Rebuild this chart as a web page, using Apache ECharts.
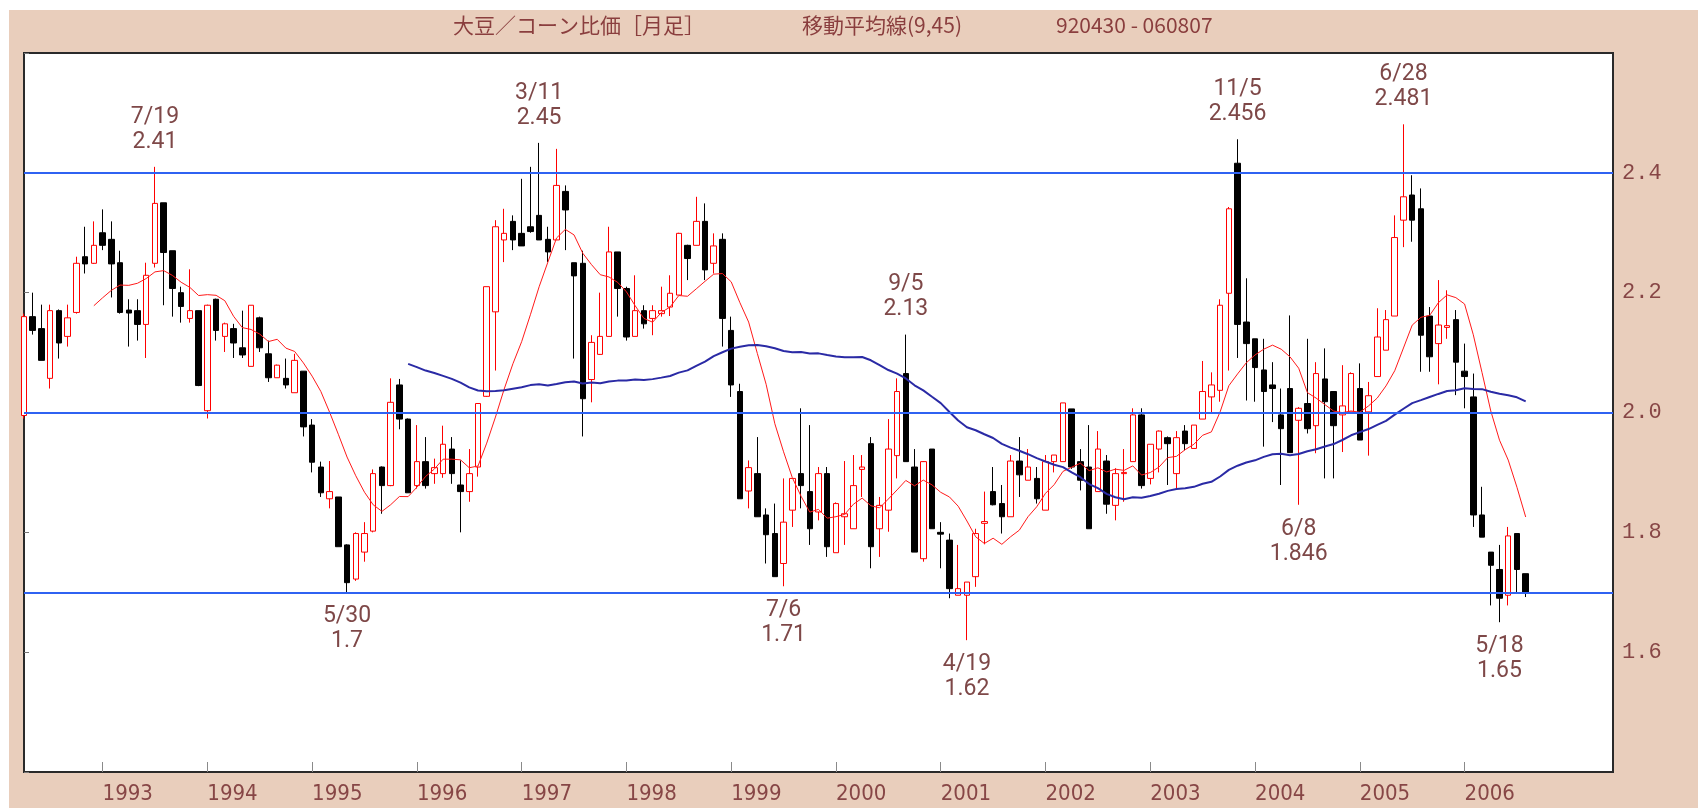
<!DOCTYPE html>
<html>
<head>
<meta charset="utf-8">
<script src="https://cdn.jsdelivr.net/npm/echarts@6/dist/echarts.min.js"></script>
<style>
  html, body { margin: 0; padding: 0; background: #ffffff; width: 1698px; height: 808px; overflow: hidden; }
  #bg { position: absolute; left: 9px; top: 10px; right: 0; bottom: 0; background: #E9CEBC; }
  #main { position: absolute; left: 0; top: 0; width: 1698px; height: 808px; }
</style>
</head>
<body>
<div id="bg"></div>
<div id="main"></div>
<script>
// ---- categories: monthly slots starting 1992/04 (data through 2006/08, then empty slots to the right edge)
const startYear = 1992;
const startMonth = 4;
const slotCount = 183;
const months = [];
for (let k = 0; k < slotCount; k++) {
  const m = startMonth - 1 + k;
  months.push((startYear + Math.floor(m / 12)) + '/' + String(m % 12 + 1).padStart(2, '0'));
}
// year tick labels shown on the x axis
const yearLabels = ['1993','1994','1995','1996','1997','1998','1999','2000','2001','2002','2003','2004','2005','2006'];

// ---- monthly candles, 1992/04 .. 2006/08
const opens = [
  1.995,2.160,2.140,2.057,2.170,2.127,2.167,2.260,2.249,2.300,2.289,2.250,
  2.171,2.170,2.147,2.249,2.350,2.270,2.200,2.157,2.170,2.003,2.189,2.127,
  2.140,2.108,2.077,2.158,2.098,2.058,2.057,2.033,2.069,1.979,1.909,1.856,
  1.859,1.779,1.722,1.767,1.802,1.909,1.878,2.046,1.989,1.878,1.918,1.898,
  1.898,1.939,1.879,1.868,1.909,2.027,2.168,2.288,2.319,2.299,2.310,2.329,
  2.289,2.288,2.369,2.250,2.249,2.055,2.097,2.127,2.268,2.207,2.127,2.170,
  2.157,2.165,2.176,2.196,2.279,2.279,2.319,2.249,2.289,2.137,2.035,1.869,
  1.898,1.829,1.798,1.748,1.837,1.898,1.868,1.834,1.898,1.766,1.826,1.806,
  1.905,1.948,1.806,1.837,1.928,2.065,1.909,1.756,1.939,1.800,1.787,1.695,
  1.695,1.726,1.815,1.868,1.848,1.826,1.919,1.887,1.890,1.837,1.918,1.918,
  2.006,1.918,1.909,1.868,1.919,1.845,1.898,1.918,1.996,1.890,1.939,1.958,
  1.898,1.969,1.940,1.989,2.026,2.037,2.199,2.416,2.151,2.123,2.071,2.046,
  1.996,2.040,1.987,2.015,1.978,2.056,2.035,1.996,2.001,2.040,2.001,2.060,
  2.104,2.161,2.321,2.363,2.340,2.161,2.115,2.142,2.155,2.069,2.026,1.829,
  1.767,1.738,1.695,1.798,1.731
];
const closes = [
  2.160,2.137,2.087,2.170,2.116,2.158,2.249,2.248,2.279,2.279,2.248,2.167,
  2.166,2.147,2.229,2.349,2.267,2.207,2.177,2.170,2.045,2.179,2.137,2.148,
  2.116,2.096,2.179,2.108,2.058,2.079,2.046,2.087,1.976,1.917,1.866,1.868,
  1.776,1.716,1.798,1.798,1.898,1.878,2.017,1.989,1.866,1.918,1.878,1.908,
  1.947,1.898,1.868,1.898,2.015,2.210,2.310,2.299,2.288,2.278,2.302,2.288,
  2.268,2.379,2.338,2.228,2.023,2.117,2.127,2.268,2.207,2.126,2.170,2.148,
  2.170,2.170,2.199,2.299,2.257,2.319,2.238,2.278,2.157,2.046,1.856,1.908,
  1.826,1.796,1.726,1.817,1.890,1.878,1.806,1.898,1.776,1.848,1.831,1.878,
  1.909,1.776,1.845,1.939,2.035,1.918,1.767,1.918,1.806,1.797,1.706,1.706,
  1.717,1.798,1.818,1.846,1.826,1.919,1.896,1.909,1.856,1.918,1.929,2.016,
  1.909,1.887,1.806,1.939,1.847,1.898,1.900,1.996,1.878,1.947,1.969,1.948,
  1.958,1.948,1.979,2.035,2.046,2.179,2.340,2.147,2.115,2.075,2.035,2.040,
  1.973,1.933,2.007,1.973,2.065,2.018,1.978,2.011,2.065,1.954,2.028,2.126,
  2.155,2.292,2.360,2.321,2.129,2.093,2.146,2.145,2.084,2.060,1.829,1.792,
  1.745,1.690,1.794,1.738,1.698
];
const lows = [
  1.990,2.130,2.087,2.040,2.090,2.110,2.165,2.232,2.248,2.271,2.192,2.165,
  2.110,2.120,2.091,2.242,2.179,2.160,2.150,2.150,2.044,1.990,2.120,2.101,
  2.091,2.091,2.077,2.101,2.051,2.058,2.040,2.033,1.960,1.900,1.859,1.840,
  1.776,1.700,1.719,1.751,1.800,1.831,1.877,1.972,1.866,1.873,1.873,1.881,
  1.891,1.881,1.800,1.851,1.893,2.026,2.070,2.251,2.271,2.278,2.300,2.288,
  2.251,2.288,2.271,2.090,1.960,2.017,2.096,2.127,2.160,2.120,2.127,2.140,
  2.129,2.160,2.161,2.196,2.221,2.279,2.221,2.232,2.110,2.026,1.856,1.840,
  1.826,1.748,1.726,1.710,1.809,1.840,1.779,1.820,1.759,1.766,1.779,1.806,
  1.859,1.740,1.759,1.801,1.890,1.918,1.767,1.751,1.806,1.740,1.690,1.695,
  1.620,1.709,1.780,1.845,1.798,1.826,1.859,1.887,1.848,1.837,1.900,1.918,
  1.906,1.870,1.806,1.868,1.831,1.820,1.851,1.918,1.873,1.880,1.900,1.879,
  1.873,1.937,1.940,1.989,1.998,2.018,2.070,2.091,2.020,2.018,1.943,1.984,
  1.879,1.933,1.846,1.965,1.932,1.890,1.890,1.934,2.001,1.954,1.928,2.060,
  2.104,2.161,2.276,2.285,2.068,2.068,2.047,2.123,2.029,2.007,1.809,1.792,
  1.678,1.650,1.678,1.698,1.692
];
const highs = [
  2.165,2.200,2.180,2.180,2.172,2.180,2.260,2.310,2.319,2.339,2.319,2.270,
  2.189,2.189,2.250,2.410,2.350,2.270,2.210,2.239,2.170,2.180,2.190,2.150,
  2.148,2.170,2.179,2.160,2.120,2.080,2.090,2.098,2.069,1.989,1.918,1.919,
  1.859,1.780,1.800,1.817,1.905,1.910,2.057,2.056,1.990,1.979,1.959,1.923,
  1.978,1.959,1.920,1.939,2.015,2.210,2.321,2.340,2.329,2.390,2.410,2.450,
  2.310,2.440,2.379,2.250,2.270,2.129,2.200,2.310,2.268,2.210,2.229,2.179,
  2.179,2.210,2.229,2.300,2.280,2.360,2.349,2.299,2.299,2.160,2.048,1.920,
  1.959,1.840,1.848,1.890,1.890,2.007,1.979,1.909,1.909,1.850,1.919,1.929,
  1.929,1.959,1.859,1.989,2.057,2.130,1.939,1.919,1.939,1.817,1.798,1.779,
  1.717,1.806,1.868,1.909,1.879,1.929,1.959,1.939,1.909,1.929,1.929,2.016,
  2.006,1.939,1.979,1.969,1.929,1.907,1.939,2.007,2.007,1.947,1.970,1.960,
  1.969,1.979,1.979,2.086,2.067,2.189,2.343,2.456,2.224,2.123,2.123,2.084,
  2.040,2.162,2.009,2.123,2.084,2.107,2.035,2.079,2.067,2.082,2.051,2.174,
  2.171,2.329,2.481,2.396,2.374,2.176,2.221,2.204,2.171,2.115,2.065,1.876,
  1.767,1.779,1.809,1.798,1.731
];

// ---- reference lines and extreme annotations
const levelLines = [2.4, 2.0, 1.7];
const peakMonths = ['1993/07', '1997/03', '2000/09', '2003/11', '2005/06'];
const peakDates  = ['7/19', '3/11', '9/5', '11/5', '6/28'];
const peakValues = [2.41, 2.45, 2.13, 2.456, 2.481];
const troughMonths = ['1995/05', '1999/07', '2001/04', '2004/06', '2006/05'];
const troughDates  = ['5/30', '7/6', '4/19', '6/8', '5/18'];
const troughValues = [1.7, 1.71, 1.62, 1.846, 1.65];

// ---- axis ticks
const yTicks = { min: 1.4, max: 2.6, interval: 0.2 };
const maPeriods = [9, 45];

const candleData = opens.map((o, i) => [o, closes[i], lows[i], highs[i]]);
function movingAverage(n) {
  return closes.map((c, i) => {
    if (i < n - 1) return '-';
    let s = 0;
    for (let j = i - n + 1; j <= i; j++) s += closes[j];
    return +(s / n).toFixed(4);
  });
}

const txtColor = '#874646';
const isYearStart = (idx, val) => String(val).endsWith('/01') && yearLabels.indexOf(String(val).slice(0, 4)) >= 0;

const chart = echarts.init(document.getElementById('main'), null, { renderer: 'canvas' });
chart.setOption({
  animation: false,
  backgroundColor: 'transparent',
  graphic: [
    { type: 'text', left: 453, top: 15, style: { text: '大豆／コーン比価［月足］', fill: '#8a3e3e', fontSize: 21, fontFamily: '"Noto Sans CJK JP"' } },
    { type: 'text', left: 802, top: 15, style: { text: '移動平均線(9,45)', fill: '#8a3e3e', fontSize: 21, fontFamily: '"Noto Sans CJK JP"' } },
    { type: 'text', left: 1056, top: 15, style: { text: '920430 - 060807', fill: '#8a3e3e', fontSize: 21, fontFamily: '"Noto Sans CJK JP"' } }
  ],
  grid: { left: 24, right: 85, top: 53, bottom: 36, show: true, backgroundColor: '#ffffff', borderColor: '#2a2a2a', borderWidth: 2 },
  xAxis: {
    type: 'category',
    data: months,
    boundaryGap: false,
    axisLine: { show: true, lineStyle: { color: '#2a2a2a', width: 2 } },
    axisTick: { show: true, inside: true, length: 10, interval: isYearStart, lineStyle: { color: '#8a8a8a', width: 1 } },
    axisLabel: {
      interval: isYearStart, formatter: v => v.slice(0, 4), align: 'left',
      color: txtColor, fontSize: 22, fontFamily: '"Liberation Sans Narrow", "DejaVu Sans Condensed", sans-serif', margin: 11
    },
    splitLine: { show: false }
  },
  yAxis: [
    {
      type: 'value', position: 'right', min: yTicks.min, max: yTicks.max, interval: yTicks.interval,
      splitLine: { show: false }, axisLine: { show: false }, axisTick: { show: false },
      axisLabel: { showMinLabel: false, showMaxLabel: false, formatter: v => v.toFixed(1), color: txtColor, fontSize: 22, fontFamily: '"Liberation Mono", "DejaVu Sans Mono", monospace', margin: 9 }
    },
    {
      type: 'value', position: 'left', min: yTicks.min, max: yTicks.max, interval: yTicks.interval,
      splitLine: { show: false }, axisLine: { show: false },
      axisTick: { show: true, inside: true, length: 5, lineStyle: { color: '#777' } },
      axisLabel: { show: false }
    }
  ],
  series: [
    {
      type: 'line', data: [], silent: true, z: 1,
      markLine: {
        silent: true, symbol: ['none', 'none'], label: { show: false },
        lineStyle: { color: '#2f62f2', width: 2, type: 'solid' },
        data: levelLines.map(v => ({ yAxis: v }))
      }
    },
    {
      type: 'candlestick', data: candleData, barWidth: 6, z: 3,
      itemStyle: { color: '#ffffff', color0: '#000000', borderColor: '#ff0000', borderColor0: '#000000', borderWidth: 1 },
      markPoint: {
        symbol: 'rect', symbolSize: 1, itemStyle: { color: 'rgba(0,0,0,0)' },
        label: {
          show: true, formatter: p => p.name + '\n' + p.value,
          color: '#7e4848', fontSize: 23, lineHeight: 25, fontFamily: 'Roboto, sans-serif'
        },
        data: peakMonths.map((m, k) => ({ coord: [m, peakValues[k]], name: peakDates[k], value: peakValues[k], label: { position: 'top', distance: 12 } }))
          .concat(troughMonths.map((m, k) => ({ coord: [m, troughValues[k]], name: troughDates[k], value: troughValues[k], label: { position: 'bottom', distance: 11 } })))
      }
    },
    {
      type: 'line', name: 'MA' + maPeriods[0], data: movingAverage(maPeriods[0]), z: 4,
      showSymbol: false, symbol: 'none', lineStyle: { color: '#ff1a1a', width: 1 }
    },
    {
      type: 'line', name: 'MA' + maPeriods[1], data: movingAverage(maPeriods[1]), z: 4,
      showSymbol: false, symbol: 'none', lineStyle: { color: '#2a2aa5', width: 2 }
    }
  ]
});
</script>
</body>
</html>
